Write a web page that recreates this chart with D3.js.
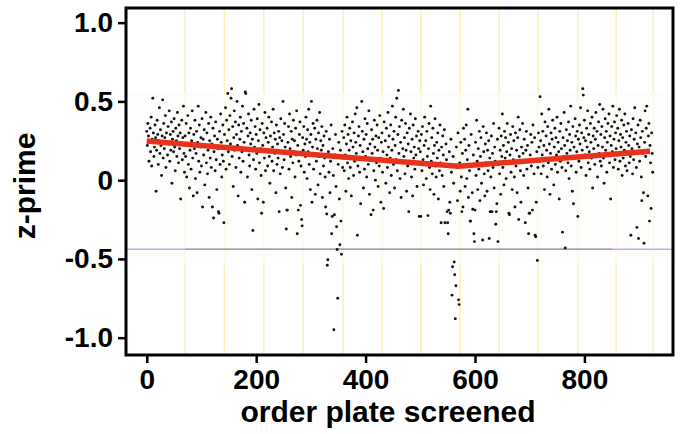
<!DOCTYPE html>
<html><head><meta charset="utf-8">
<script src="https://cdn.jsdelivr.net/npm/d3@7"></script>
<style>html,body{margin:0;padding:0;background:#fff;}svg{display:block;}</style>
</head><body><svg id="c" width="687" height="434"></svg>
<script>
// z-prime per plate, index = order plate screened (rows of 10)
const zprime = [
0.31,0.22,0.36,0.28,0.12,0.24,0.33,0.18,0.40,0.09,
0.26,0.52,0.30,0.15,0.21,0.35,0.27,-0.07,0.19,0.38,
0.29,0.10,0.25,0.46,0.17,0.32,0.22,0.03,0.28,0.51,
0.14,0.36,0.20,0.27,0.41,0.08,0.30,0.24,0.16,0.34,
0.23,0.44,0.12,0.29,0.19,0.37,-0.02,0.26,0.31,0.18,
0.39,0.21,0.06,0.33,0.25,0.15,0.43,0.28,0.11,0.35,
0.20,0.30,-0.12,0.24,0.38,0.13,0.27,0.47,0.17,0.05,
0.28,0.15,0.36,0.02,0.22,0.41,0.10,0.30,-0.05,0.19,
0.33,0.07,0.25,0.44,0.14,-0.10,0.29,0.20,0.38,0.01,
0.17,0.31,-0.08,0.24,0.47,0.12,0.35,0.05,0.21,0.27,
0.09,0.39,-0.17,0.26,0.16,0.32,-0.03,0.22,0.43,0.11,
0.30,0.04,0.19,0.36,-0.11,0.25,0.14,0.40,0.08,0.23,
-0.17,0.33,-0.24,0.18,0.28,0.06,0.37,0.13,-0.06,0.26,
0.20,-0.20,-0.21,0.31,0.10,0.42,0.24,0.02,0.16,0.35,
0.12,-0.27,0.29,0.21,0.46,0.07,0.38,0.25,0.55,0.18,
0.32,0.10,0.41,0.23,0.52,0.58,0.15,0.34,-0.04,0.27,
0.44,0.19,0.37,0.08,0.29,0.50,0.22,-0.10,0.35,0.14,
0.26,0.40,0.05,0.31,0.18,0.47,0.12,0.36,0.24,-0.14,
0.56,0.55,0.20,0.33,0.02,0.28,0.42,0.16,0.09,0.30,
0.23,0.38,-0.06,0.26,-0.32,0.13,0.45,0.21,0.34,0.07,
0.29,0.17,0.39,-0.12,0.25,0.48,0.11,0.32,0.20,0.03,
-0.21,0.36,0.22,-0.14,0.30,0.14,0.43,0.06,0.27,0.19,
0.33,0.09,0.24,0.40,0.15,-0.02,0.28,0.19,0.37,0.12,
0.21,0.45,0.06,0.30,0.17,0.26,-0.08,0.35,0.10,0.23,
0.14,0.31,-0.20,0.27,0.04,0.39,0.18,0.25,0.08,0.50,
0.29,0.13,0.36,0.21,-0.05,-0.31,-0.19,-0.19,0.24,0.34,
0.07,0.42,0.20,0.15,0.31,-0.11,0.26,0.11,0.38,0.18,
0.25,0.02,0.33,0.16,0.44,-0.34,0.22,-0.19,0.12,0.29,
0.37,-0.16,0.09,-0.25,-0.29,0.27,0.19,0.34,0.05,0.23,
0.15,0.40,0.26,0.01,0.32,0.18,0.45,0.10,0.24,-0.06,
0.29,0.50,-0.14,0.21,0.36,0.07,0.17,0.33,-0.09,0.26,
0.12,0.38,0.20,-0.03,0.30,0.15,0.43,0.04,0.25,0.19,
0.34,-0.11,0.22,0.09,0.28,0.14,0.02,-0.17,0.31,-0.215,
-0.54,-0.505,0.18,0.05,0.26,-0.08,0.12,0.35,-0.34,-0.23,
0.20,0.03,-0.95,-0.22,0.16,0.29,-0.04,-0.295,-0.44,-0.75,
0.10,0.24,-0.12,-0.41,0.19,-0.26,-0.47,0.31,0.08,0.14,
0.27,0.06,0.35,0.16,-0.07,0.23,0.40,0.11,0.29,0.01,
0.19,0.33,0.08,0.25,-0.10,0.14,0.37,0.21,0.03,0.30,
0.12,0.42,0.24,0.17,0.46,-0.35,0.09,0.28,0.34,0.05,
0.22,-0.15,0.13,0.50,0.31,0.18,-0.05,0.26,0.07,0.39,
0.15,0.29,0.02,0.36,0.20,0.10,0.44,-0.09,0.23,0.13,
-0.22,0.32,0.17,0.26,-0.19,0.06,0.38,0.21,0.00,0.28,
0.11,0.35,0.19,-0.04,0.27,0.09,0.41,0.14,-0.14,0.24,
0.30,0.05,0.18,-0.18,0.37,0.12,0.25,-0.02,0.33,0.16,
0.08,0.43,0.21,0.28,-0.08,0.14,0.35,0.03,0.19,0.47,
0.26,0.10,0.31,-0.05,0.22,0.40,0.13,0.52,0.06,0.29,
0.57,0.17,0.34,0.01,0.24,-0.11,0.38,0.11,0.20,0.45,
0.15,0.27,0.04,0.36,0.19,-0.07,0.30,0.09,0.23,-0.20,
0.33,0.12,0.42,0.18,0.02,0.26,-0.10,0.35,0.14,0.21,
0.07,0.39,0.16,0.28,-0.04,0.11,0.31,0.20,-0.23,0.25,
0.18,-0.23,0.29,0.06,0.34,0.13,-0.03,0.22,0.40,0.10,
0.25,0.01,0.31,0.15,-0.225,0.20,0.36,0.08,-0.06,0.47,
0.12,0.27,0.04,0.33,0.17,-0.09,0.22,0.39,0.09,0.02,
0.24,0.14,0.30,-0.12,0.19,0.06,0.35,0.11,-0.27,0.21,
0.03,0.28,0.16,-0.04,0.32,-0.27,0.09,0.23,0.13,-0.20,
-0.27,-0.34,-0.19,0.18,-0.14,-0.21,0.26,0.05,-0.73,-0.55,
0.15,-0.02,-0.52,-0.60,-0.88,-0.67,0.21,0.08,-0.13,0.30,
-0.76,-0.79,0.11,-0.07,0.24,0.02,-0.20,0.17,-0.17,0.33,
0.09,0.26,-0.04,0.19,0.35,0.01,0.13,0.45,-0.11,0.22,
0.06,-0.26,-0.26,0.29,0.10,-0.08,-0.185,0.16,-0.34,-0.39,
-0.19,0.24,0.03,0.38,0.12,-0.06,0.20,0.07,0.31,-0.13,
0.15,0.27,-0.02,0.09,-0.38,0.34,0.18,0.04,-0.10,0.23,
0.11,0.30,-0.07,0.19,0.06,0.25,-0.37,0.14,-0.20,0.02,
0.28,-0.20,0.17,0.08,0.36,-0.05,0.21,0.12,-0.28,-0.20,
-0.15,0.26,-0.39,0.10,0.33,0.04,0.19,-0.09,0.28,0.15,
0.42,0.08,0.22,-0.03,0.31,0.14,0.27,0.01,0.18,0.36,
0.11,0.24,-0.21,-0.22,0.16,0.29,0.05,0.20,-0.06,0.34,
0.13,0.25,0.02,-0.17,0.30,0.09,0.19,-0.08,0.27,0.40,
-0.25,0.15,0.32,0.06,-0.14,0.21,0.11,0.36,0.17,0.03,
0.26,0.12,-0.27,0.19,0.31,0.07,0.22,-0.05,-0.34,-0.21,
-0.21,0.16,0.29,0.09,0.24,-0.19,0.35,0.13,0.04,0.27,
-0.35,-0.36,-0.14,0.18,-0.51,0.08,0.30,0.21,0.12,0.53,
0.25,0.04,0.42,0.16,0.31,0.09,0.22,-0.06,0.37,0.14,
0.28,0.19,0.02,0.34,0.11,0.45,0.23,-0.09,0.17,0.30,
0.07,0.26,0.38,0.13,-0.03,0.21,0.33,0.10,0.27,0.16,
0.40,0.05,0.24,0.18,-0.12,0.31,0.12,0.36,0.20,0.08,
-0.33,0.27,0.15,0.43,0.22,-0.43,0.06,0.32,0.17,0.25,
0.11,0.37,0.01,0.29,0.19,0.47,0.09,0.24,-0.07,0.34,
-0.15,0.21,0.14,0.39,0.28,0.05,0.18,0.31,-0.23,0.26,
0.12,0.35,0.23,0.46,0.08,0.30,0.19,0.58,0.54,0.27,
0.38,0.16,0.25,0.03,0.33,0.21,0.44,0.11,0.29,0.18,
0.07,0.36,0.24,0.14,0.40,-0.05,0.28,0.20,0.33,0.10,
0.26,0.43,0.15,0.31,0.02,0.22,0.37,0.17,0.48,0.12,
0.29,0.09,0.34,0.21,0.45,0.14,-0.02,0.27,0.39,0.19,
0.31,0.05,0.24,0.36,0.16,0.42,0.11,0.28,-0.12,0.22,
0.34,0.18,0.47,0.08,0.26,0.37,0.13,0.30,0.20,0.41,
0.16,0.33,0.07,0.25,0.45,0.12,0.29,0.21,0.38,0.03,
0.27,0.14,0.35,0.19,0.42,0.09,0.24,0.31,0.06,0.18,
0.36,0.22,0.11,0.28,0.15,-0.35,0.32,0.20,0.04,0.39,
0.13,0.26,0.46,0.18,0.30,0.08,-0.30,0.23,0.35,-0.37,
0.21,0.12,0.38,0.27,0.02,-0.13,0.31,0.17,-0.08,-0.40,
0.24,0.44,0.15,0.33,0.47,0.19,-0.10,0.28,0.36,-0.26,
0.22,0.11,-0.18,0.30,0.17,0.05
];
// fitted trend (red line)
const trendPlate = [0, 500, 570, 920];
const trendZ = [0.248, 0.108, 0.088, 0.183];
// plate batch boundaries (yellow lines)
const batchLines = [70, 142, 214, 286, 359, 430, 501, 573, 644, 715, 788, 858, 926];
// cutoff line
const cutoff = -0.438;
const xTicks = [0, 200, 400, 600, 800];
const yTicks = [1.0, 0.5, 0, -0.5, -1.0];
const yTickLabels = ["1.0", "0.5", "0", "-0.5", "-1.0"];

const svg = d3.select("#c");
const L = 126, R = 673, T = 8, B = 355;
const x = d3.scaleLinear().domain([-38, 962]).range([L, R]);
const y = d3.scaleLinear().domain([-1.11, 1.093]).range([B, T]);

// yellow batch lines
svg.append("g").selectAll("line").data(batchLines).join("line")
  .attr("x1", d => x(d)).attr("x2", d => x(d)).attr("y1", T).attr("y2", B)
  .attr("stroke", "#fbf1b8").attr("stroke-width", 1.6);

// faint band of the pasted scatter image
svg.append("rect").attr("x", x(-34)).attr("width", x(966) - x(-34))
  .attr("y", y(0.554)).attr("height", y(-0.526) - y(0.554))
  .attr("fill", "#fcfcfb").attr("opacity", 0.7);

// cutoff line (purple)
svg.append("line").attr("x1", L).attr("x2", R).attr("y1", y(cutoff)).attr("y2", y(cutoff))
  .attr("stroke", "#cca6e4").attr("stroke-width", 1.5);

// cutoff line (grey portion)
svg.append("line").attr("x1", x(70)).attr("x2", x(851)).attr("y1", y(cutoff)).attr("y2", y(cutoff))
  .attr("stroke", "#a0a0a0").attr("stroke-width", 1.5);

// points
svg.append("g").selectAll("circle").data(zprime).join("circle")
  .attr("cx", (d, i) => x(i)).attr("cy", d => y(d)).attr("r", 1.45)
  .attr("fill", "#111");

// trend line
svg.append("path")
  .datum(trendPlate.map((p, i) => [p, trendZ[i]]))
  .attr("d", d3.line().x(d => x(d[0])).y(d => y(d[1])))
  .attr("fill", "none").attr("stroke", "#e8321c").attr("stroke-width", 5.5);

// frame
svg.append("rect").attr("x", L).attr("y", T).attr("width", R - L).attr("height", B - T)
  .attr("fill", "none").attr("stroke", "#000").attr("stroke-width", 3);

// axes
const xAxis = d3.axisBottom(x).tickValues(xTicks).tickSize(8).tickSizeOuter(0).tickPadding(6).tickFormat(d3.format("d"));
const gx = svg.append("g").attr("transform", `translate(0,${B})`).call(xAxis);
gx.select(".domain").remove();
gx.selectAll(".tick line").attr("stroke", "#000").attr("stroke-width", 2.5);
gx.selectAll(".tick text").attr("font-family", "Liberation Sans, Arial, sans-serif")
  .attr("font-weight", "bold").attr("font-size", 28).attr("fill", "#000").attr("dy", "0.71em");

const yAxis = d3.axisLeft(y).tickValues(yTicks).tickSize(8).tickSizeOuter(0).tickPadding(5)
  .tickFormat((d, i) => yTickLabels[i]);
const gy = svg.append("g").attr("transform", `translate(${L},0)`).call(yAxis);
gy.select(".domain").remove();
gy.selectAll(".tick line").attr("stroke", "#000").attr("stroke-width", 2.5);
gy.selectAll(".tick text").attr("font-family", "Liberation Sans, Arial, sans-serif")
  .attr("font-weight", "bold").attr("font-size", 28).attr("fill", "#000");

// titles
svg.append("text").attr("x", 388).attr("y", 422).attr("text-anchor", "middle")
  .attr("font-family", "Liberation Sans, Arial, sans-serif").attr("font-weight", "bold")
  .attr("font-size", 30).attr("fill", "#000").text("order plate screened");
svg.append("text").attr("transform", "translate(35,186) rotate(-90)").attr("text-anchor", "middle")
  .attr("font-family", "Liberation Sans, Arial, sans-serif").attr("font-weight", "bold")
  .attr("font-size", 30).attr("fill", "#000").text("z-prime");
</script></body></html>
